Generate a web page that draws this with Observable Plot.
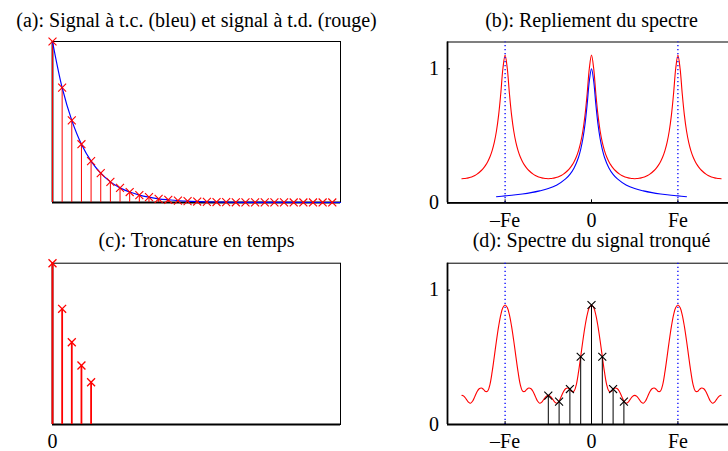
<!DOCTYPE html>
<html>
<head>
<meta charset="utf-8">
<script src="https://cdn.jsdelivr.net/npm/d3@7"></script>
<script src="https://cdn.jsdelivr.net/npm/@observablehq/plot@0.6"></script>
<style>
  html, body { margin: 0; padding: 0; background: #fff; }
  body { width: 728px; height: 451px; overflow: hidden; position: relative; }
  .panel { position: absolute; }
  .panel svg { background: none !important; overflow: visible !important; max-width: none !important; }
  .panel svg, .panel svg text { font-family: "Liberation Serif", "Times New Roman", "DejaVu Serif", serif !important; }
</style>
</head>
<body>
<div id="pb" class="panel" style="left:364px;top:0;width:381px"></div>
<div id="pd" class="panel" style="left:364px;top:225px;width:381px"></div>
<div id="pa" class="panel" style="left:0;top:0;width:364px"></div>
<div id="pc" class="panel" style="left:0;top:225px;width:364px"></div>
<script>
// ---------- titles ----------
const titleA = "(a): Signal à t.c. (bleu) et signal à t.d. (rouge)";
const titleB = "(b): Repliement du spectre";
const titleC = "(c): Troncature en temps";
const titleD = "(d): Spectre du signal tronqué";

// ---------- (a) continuous-time (blue) and sampled (red) signal ----------
const sampledA = [1, .713, .510, .362, .257, .182, .128, .091, .065, .046, .033, .023, .017, .012, .008,
                  .006, .004, .003, .002, .0015, .001, .0008, .0005, .0004, .0003, .0002, .0001, .0001, .0001, .0001];
const contTimeA = [0, 1, 2, 3, 4, 5, 6, 7, 8, 9, 10, 11, 12, 14, 16, 18, 20, 24, 29.85];
const contValA  = [1, .713, .510, .362, .257, .182, .128, .091, .065, .046, .033, .023, .017, .008, .004, .002, .001, .0003, 0];
const timeDomain = [0, 29.85];

// ---------- (c) truncated signal ----------
const truncatedC = [1, .717, .510, .366, .262];
const timeTicksC = [0];

// ---------- (b) aliased spectrum, frequencies in units of Fe ----------
const freqStep = 0.025;
const freqStart = -1.5;
const aliasedB = [
  .180,.181,.183,.186,.190,.196,.204,.214,.226,.241,.259,.281,.309,.344,.390,.451,.536,.654,.816,1.004,1.103,
  1.004,.816,.654,.536,.451,.390,.344,.309,.281,.259,.241,.226,.214,.204,.196,.190,.186,.183,.181,.180,
  .181,.183,.186,.190,.196,.204,.214,.226,.241,.259,.281,.309,.344,.390,.451,.536,.654,.816,1.004,1.103,
  1.004,.816,.654,.536,.451,.390,.344,.309,.281,.259,.241,.226,.214,.204,.196,.190,.186,.183,.181,.180,
  .181,.183,.186,.190,.196,.204,.214,.226,.241,.259,.281,.309,.344,.390,.451,.536,.654,.816,1.004,1.103,
  1.004,.816,.654,.536,.451,.390,.344,.309,.281,.259,.241,.226,.214,.204,.196,.190,.186,.183,.181,.180
];
const contFreqB = [-1.1,-1.0,-0.9,-0.8,-0.7,-0.6,-0.5,-0.4,-0.3,-0.25,-0.2,-0.15,-0.125,-0.1,-0.075,-0.05,-0.025,0,
                   .025,.05,.075,.1,.125,.15,.2,.25,.3,.4,.5,.6,.7,.8,.9,1.0,1.1];
const contSpecB = [.045,.052,.058,.066,.076,.089,.106,.133,.178,.212,.262,.340,.399,.478,.587,.736,.909,1,
                   .909,.736,.587,.478,.399,.340,.262,.212,.178,.133,.106,.089,.076,.066,.058,.052,.045];

// ---------- (d) spectrum of truncated signal ----------
const truncSpecD = [
  .217,.209,.189,.167,.158,.175,.209,.244,.266,.272,.261,.245,.250,.299,.391,.505,.623,.730,.816,.870,.889,
  .870,.816,.730,.623,.505,.391,.299,.250,.245,.261,.272,.266,.244,.209,.175,.158,.167,.189,.209,.217,
  .209,.189,.167,.158,.175,.209,.244,.266,.272,.261,.245,.250,.299,.391,.505,.623,.730,.816,.870,.889,
  .870,.816,.730,.623,.505,.391,.299,.250,.245,.261,.272,.266,.244,.209,.175,.158,.167,.189,.209,.217,
  .209,.189,.167,.158,.175,.209,.244,.266,.272,.261,.245,.250,.299,.391,.505,.623,.730,.816,.870,.889,
  .870,.816,.730,.623,.505,.391,.299,.250,.245,.261,.272,.266,.244,.209,.175,.158,.167,.189,.209,.217
];
const dftFreqD = [-0.5, -0.375, -0.25, -0.125, 0, 0.125, 0.25, 0.375];
const dftValD  = [.215, .170, .264, .504, .889, .504, .264, .170];

// ---------- shared axes ----------
const aliasLines = [-1, 1];
const freqTicks = [-1, 0, 1];
const freqLabels = ["–Fe", "0", "Fe"];
const magTicks = [0, 1];
const freqDomain = [-5/3, 5/3];
const magDomain = [0, 1.2];

const FONT = "Liberation Serif, Times New Roman, DejaVu Serif, serif";
const FS = 20;
const style = {fontFamily: FONT, fontSize: FS + "px", color: "black", background: "none", overflow: "visible", maxWidth: "none"};
const freqOf = (d, i) => freqStart + i * freqStep;

function box(xmin) {
  return [
    Plot.frame({stroke: "black", strokeWidth: 1}),
    Plot.ruleY([0], {stroke: "black", strokeWidth: 1.8}),
    Plot.ruleX([xmin], {stroke: "black", strokeWidth: 1.8})
  ];
}
function title(t, dy) {
  return Plot.text([t], {frameAnchor: "top", lineAnchor: "bottom", dy, fontSize: FS, fontFamily: FONT, fill: "black"});
}
function freqAxes(xPad) {
  return [
    Plot.axisX(freqTicks, {tickSize: 0, tickPadding: xPad, fontSize: FS, label: null,
      tickFormat: d => freqLabels[freqTicks.indexOf(d)]}),
    Plot.axisX(freqTicks, {tickSize: -3, tickFormat: () => "", label: null}),
    Plot.axisY(magTicks, {tickSize: 0, tickPadding: 8.5, fontSize: FS, label: null, tickFormat: d => String(d)}),
    Plot.axisY(magTicks, {tickSize: -3, tickFormat: () => "", label: null})
  ];
}
function aliasRules() {
  return Plot.ruleX(aliasLines, {y1: 0, y2: magDomain[1], stroke: "#0000ff", strokeWidth: 1.3, strokeDasharray: "1.3,2.7"});
}

// (a)
document.getElementById("pa").append(Plot.plot({
  width: 364, height: 225, marginLeft: 52, marginRight: 24, marginTop: 41, marginBottom: 23,
  x: {domain: timeDomain, axis: null}, y: {domain: [0, 1], axis: null},
  style,
  marks: [
    ...box(timeDomain[0]),
    Plot.ruleX(sampledA, {x: (d, i) => i, y1: 0, y2: d => d, stroke: "red", strokeWidth: 1}),
    Plot.line(contTimeA, {x: contTimeA, y: contValA, stroke: "blue", strokeWidth: 1.2, curve: "catmull-rom"}),
    Plot.dot(sampledA, {x: (d, i) => i, y: d => d, symbol: "times", r: 3.7, stroke: "red", strokeWidth: 1.1}),
    title(titleA, -14.3)
  ]
}));

// (b)
document.getElementById("pb").append(Plot.plot({
  width: 381, height: 225, marginLeft: 83, marginRight: 10, marginTop: 41.5, marginBottom: 22.7,
  x: {domain: freqDomain, axis: null}, y: {domain: magDomain, axis: null},
  style,
  marks: [
    ...box(freqDomain[0]),
    Plot.line(aliasedB, {x: freqOf, y: d => d, stroke: "red", strokeWidth: 1.1, curve: "catmull-rom"}),
    Plot.line(contFreqB, {x: contFreqB, y: contSpecB, stroke: "blue", strokeWidth: 1.1, curve: "catmull-rom"}),
    aliasRules(),
    ...freqAxes(10.1),
    title(titleB, -15)
  ]
}));

// (c)
document.getElementById("pc").append(Plot.plot({
  width: 364, height: 226, marginLeft: 52, marginRight: 24, marginTop: 37.7, marginBottom: 27,
  x: {domain: timeDomain, axis: null}, y: {domain: [0, 1], axis: null},
  style,
  marks: [
    ...box(timeDomain[0]),
    Plot.ruleX(truncatedC, {x: (d, i) => i, y1: 0, y2: d => d, stroke: "red", strokeWidth: 1.8}),
    Plot.dot(truncatedC, {x: (d, i) => i, y: d => d, symbol: "times", r: 3.7, stroke: "red", strokeWidth: 1.3}),
    Plot.axisX(timeTicksC, {tickSize: 0, tickPadding: 9.3, fontSize: FS, label: null}),
    title(titleC, -16)
  ]
}));

// (d)
document.getElementById("pd").append(Plot.plot({
  width: 381, height: 226, marginLeft: 83, marginRight: 10, marginTop: 37.7, marginBottom: 27,
  x: {domain: freqDomain, axis: null}, y: {domain: magDomain, axis: null},
  style,
  marks: [
    ...box(freqDomain[0]),
    aliasRules(),
    Plot.line(truncSpecD, {x: freqOf, y: d => d, stroke: "red", strokeWidth: 1.1, curve: "catmull-rom"}),
    Plot.ruleX(dftFreqD, {x: dftFreqD, y1: 0, y2: dftValD, stroke: "black", strokeWidth: 1}),
    Plot.dot(dftFreqD, {x: dftFreqD, y: dftValD, symbol: "times", r: 3.7, stroke: "black", strokeWidth: 1.1}),
    ...freqAxes(9.6),
    title(titleD, -16)
  ]
}));
</script>
</body>
</html>
